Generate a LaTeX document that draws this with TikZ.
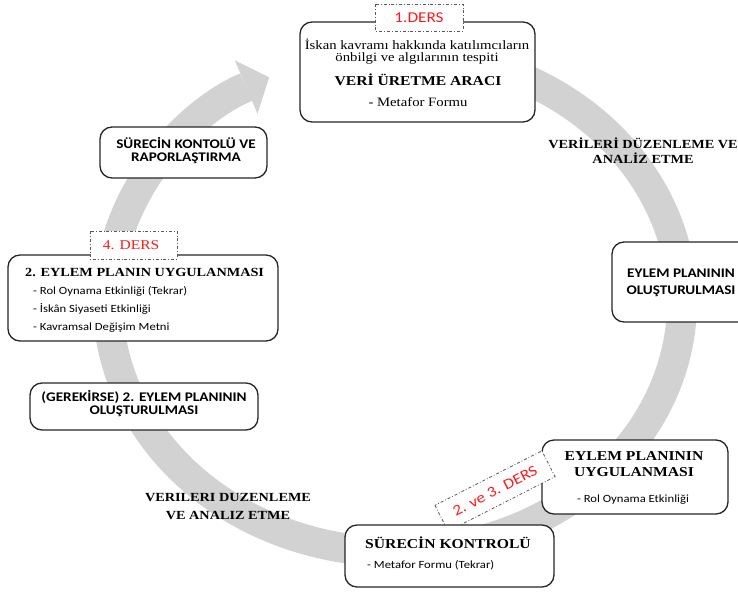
\documentclass[tikz,border=0pt]{standalone}
\usepackage{fontspec}
\setmainfont{Liberation Serif}[FakeStretch=1.15]
\newfontfamily\calibri{Carlito}[FakeStretch=1.15]
\usetikzlibrary{arrows.meta}
\definecolor{RingGray}{HTML}{D2D2D2}
\definecolor{Frame}{HTML}{262626}
\definecolor{DersRed}{HTML}{FF1A1A}
\definecolor{DashGray}{HTML}{595959}

\newcommand{\fsBody}{\fontsize{12.8}{14}\selectfont}
\newcommand{\fsHead}{\bfseries\fontsize{12.4}{14}\selectfont}
\newcommand{\fsBigHead}{\bfseries\fontsize{13.6}{15}\selectfont}
\newcommand{\fsSans}{\calibri\bfseries\fontsize{13.2}{15}\selectfont}
\newcommand{\fsItem}{\calibri\fontsize{11}{13}\selectfont}
\newcommand{\fsDers}{\calibri\fontsize{15}{17}\selectfont}

\tikzset{
  panel/.style={draw=Frame, fill=white, line width=1.3pt, rounded corners=12pt},
  dersbox/.style={draw=DashGray, fill=white, line width=0.8pt, dash dot},
  body/.style={font=\fsBody, inner sep=0pt},
  head/.style={font=\fsHead, inner sep=0pt},
  bighead/.style={font=\fsBigHead, inner sep=0pt},
  sans/.style={font=\fsSans, inner sep=0pt},
  item/.style={font=\fsItem, inner sep=0pt, anchor=west},
  ders/.style={font=\fsDers, text=DersRed, inner sep=0pt}
}

\begin{document}
\begin{tikzpicture}[x=1pt, y=-1pt]
  \useasboundingbox (0,0) rectangle (738,591);

  % grey cycle arrow
  \draw[RingGray, line width=30pt, -{Triangle[length=25pt, width=58pt, line width=0pt]}]
    (395,302) ++(285:287 and 250) arc[start angle=285, end angle=604, x radius=287, y radius=250];

  % 1. ders
  \draw[panel] (300,22) rectangle (535,122);
  \draw[dersbox] (375,4) rectangle (463,31);
  \node[ders] (d1) at (419,18) {1.DERS};
  \node[body] (iskan1) at (417,44) {İskan kavramı hakkında katılımcıların};
  \node[body] (iskan2) at (417,58) {önbilgi ve algılarının tespiti};
  \node[bighead] (arac) at (418,80) {VERİ ÜRETME ARACI};
  \node[body] (metafor) at (418,102) {- Metafor Formu};

  \node[head] (analiz1) at (643,143) {VERİLERİ DÜZENLEME VE};
  \node[head] (analiz2) at (643,158) {ANALİZ ETME};

  \draw[panel] (612,242) rectangle (752,322);
  \node[sans] (olus1) at (681,273) {EYLEM PLANININ};
  \node[sans] (olus2) at (681,291) {OLUŞTURULMASI};

  % 2. ve 3. ders
  \draw[panel] (542,440) rectangle (728,514);
  \node[bighead] (uyg1) at (634,456) {EYLEM PLANININ};
  \node[bighead] (uyg2) at (634,472) {UYGULANMASI};
  \node[font=\fsItem, inner sep=0pt] (rol) at (633,500) {- Rol Oynama Etkinliği};
  \draw[dersbox, rotate around={27:(495,491)}] (435,476.5) rectangle (555,505.5);
  \node[ders, rotate=27] (d23) at (495,491) {2. ve 3. DERS};

  \draw[panel] (345,525) rectangle (554,587);
  \node[bighead] (kontrol) at (448,543) {SÜRECİN KONTROLÜ};
  \node[item] (tekrar) at (367,565) {- Metafor Formu (Tekrar)};

  \node[head] (analiz3) at (228,498) {VERILERI DUZENLEME};
  \node[head] (analiz4) at (228,515) {VE ANALIZ ETME};

  \draw[panel] (30,383) rectangle (258,430);
  \node[sans] (ger1) at (144,397) {(GEREKİRSE) 2. EYLEM PLANININ};
  \node[sans] (ger2) at (144,411) {OLUŞTURULMASI};

  % 4. ders
  \draw[panel] (8,255) rectangle (278,341);
  \draw[dersbox] (90,231) rectangle (177,259);
  \node[font=\fontsize{13.5}{15}\selectfont, text=DersRed, inner sep=0pt] (d4) at (131,245) {4. DERS};
  \node[head, anchor=west] (uyg3) at (25,272) {2. EYLEM PLANIN UYGULANMASI};
  \node[item] (rol2) at (33,291) {- Rol Oynama Etkinliği (Tekrar)};
  \node[item] (siyaset) at (33,309) {- İskân Siyaseti Etkinliği};
  \node[item] (metin) at (33,328) {- Kavramsal Değişim Metni};

  \draw[panel] (100,127) rectangle (267,178);
  \node[sans] (rapor1) at (186,143) {SÜRECİN KONTOLÜ VE};
  \node[sans] (rapor2) at (186,158) {RAPORLAŞTIRMA};
\end{tikzpicture}
\end{document}
